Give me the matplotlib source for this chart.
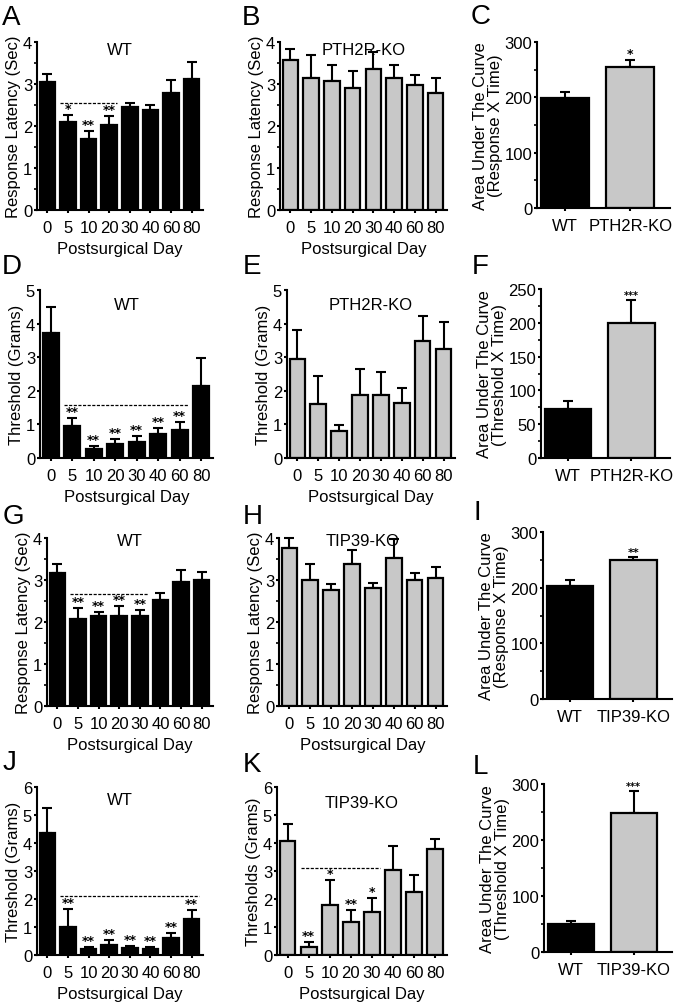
"""Painel 4x3 de latência/limiar pós-cirúrgico (WT vs PTH2R-KO / TIP39-KO)."""

import matplotlib

matplotlib.use("Agg")
import matplotlib.pyplot as plt
from matplotlib.ticker import MultipleLocator

plt.rcParams["font.family"] = ["Liberation Sans", "DejaVu Sans"]

DAYS = ["0", "5", "10", "20", "30", "40", "60", "80"]
AUC_GROUPS_PTH = ["WT", "PTH2R-KO"]
AUC_GROUPS_TIP = ["WT", "TIP39-KO"]

# médias e erros (só barra superior)
a_mean = [3.05, 2.09, 1.69, 2.03, 2.45, 2.37, 2.79, 3.13]
a_err = [0.19, 0.18, 0.19, 0.20, 0.10, 0.14, 0.31, 0.39]
b_mean = [3.56, 3.14, 3.06, 2.90, 3.36, 3.15, 2.97, 2.78]
b_err = [0.28, 0.56, 0.40, 0.42, 0.40, 0.31, 0.25, 0.36]
c_mean = [199, 254]
c_err = [10, 14]

d_mean = [3.73, 0.94, 0.27, 0.42, 0.49, 0.71, 0.83, 2.13]
d_err = [0.75, 0.24, 0.09, 0.14, 0.17, 0.17, 0.23, 0.86]
e_mean = [2.94, 1.60, 0.81, 1.87, 1.87, 1.63, 3.47, 3.24]
e_err = [0.86, 0.84, 0.17, 0.77, 0.70, 0.44, 0.76, 0.82]
f_mean = [73, 200]
f_err = [11, 33]

g_mean = [3.16, 2.06, 2.14, 2.15, 2.15, 2.53, 2.96, 3.00]
g_err = [0.23, 0.27, 0.09, 0.24, 0.14, 0.16, 0.27, 0.19]
h_mean = [3.77, 3.01, 2.77, 3.37, 2.80, 3.53, 3.00, 3.04]
h_err = [0.23, 0.36, 0.14, 0.34, 0.13, 0.44, 0.17, 0.26]
i_mean = [203, 250]
i_err = [10, 5]

j_mean = [4.37, 1.01, 0.20, 0.36, 0.24, 0.20, 0.60, 1.29]
j_err = [0.89, 0.64, 0.10, 0.18, 0.09, 0.09, 0.18, 0.33]
k_mean = [4.06, 0.30, 1.77, 1.19, 1.55, 3.02, 2.24, 3.77]
k_err = [0.63, 0.15, 0.91, 0.40, 0.49, 0.86, 0.62, 0.38]
l_mean = [50, 248]
l_err = [6, 39]

a_stars = ["", "*", "**", "**", "", "", "", ""]
d_stars = ["", "**", "**", "**", "**", "**", "**", ""]
g_stars = ["", "**", "**", "**", "**", "", "", ""]
j_stars = ["", "**", "**", "**", "**", "**", "**", "**"]
k_stars = ["", "**", "*", "**", "*", "", "", ""]
c_stars = ["", "*"]
f_stars = ["", "***"]
i_stars = ["", "**"]
l_stars = ["", "***"]

BLACK = "#000000"
GRAY = "#c8c8c8"
W, H = 680, 1004


def _ax(fig, l, t, r, b):
    return fig.add_axes([l / W, 1 - b / H, (r - l) / W, (b - t) / H])


def _style(ax, ymax, major, minor=None):
    for s in ("top", "right"):
        ax.spines[s].set_visible(False)
    for s in ("left", "bottom"):
        ax.spines[s].set_linewidth(1.5)
    ax.set_ylim(0, ymax)
    ax.yaxis.set_major_locator(MultipleLocator(major))
    if minor:
        ax.yaxis.set_minor_locator(MultipleLocator(minor))
    ax.tick_params(axis="both", which="major", width=1.5, length=2.5, labelsize=12)
    ax.tick_params(axis="y", which="major", pad=1)
    ax.tick_params(axis="x", which="major", pad=5)
    ax.tick_params(axis="y", which="minor", width=1.2, length=2)


def _bars(ax, mean, err, color, stars, width, star_size=9):
    x = list(range(len(mean)))
    ax.bar(x, mean, width, color=color, edgecolor="black", linewidth=1.6, zorder=2)
    ax.errorbar(x, mean, yerr=[[0] * len(err), err], fmt="none", ecolor="black",
                elinewidth=1.5, capsize=3.5, capthick=1.5, zorder=1, clip_on=False)
    for xi, m, e, s in zip(x, mean, err, stars):
        if s:
            ax.text(xi, m + e, s, ha="center", va="bottom", fontsize=star_size,
                    family="DejaVu Sans", fontweight="bold")
    return x


def _time_panel(fig, box, mean, err, color, ymax, ylabel, title, title_y,
                stars=None, dash=None, minor=None):
    ax = _ax(fig, *box)
    x = _bars(ax, mean, err, color, stars or [""] * len(mean), 0.75)
    ax.set_xlim(-0.5, 7.55)
    _style(ax, ymax, 1, minor)
    ax.set_xticks(x)
    ax.set_xticklabels(DAYS)
    ax.set_ylabel(ylabel, fontsize=12, labelpad=1)
    ax.set_xlabel("Postsurgical Day", fontsize=12, labelpad=4)
    ax.text(0.5, title_y, title, transform=ax.transAxes, ha="center", va="top", fontsize=12)
    if dash:
        i0, i1, yv = dash
        ax.plot([i0 - 0.375, i1 + 0.375], [yv, yv], color="black", lw=0.9,
                linestyle=(0, (2.5, 1.2)), zorder=3)
    return ax


def _auc_panel(fig, box, mean, err, groups, ymax, major, minor, ylabel, stars, star_size):
    ax = _ax(fig, *box)
    x = _bars(ax, mean, err, [BLACK, GRAY], stars, 0.73, star_size)
    ax.set_xlim(-0.43, 1.61)
    _style(ax, ymax, major, minor)
    ax.set_xticks(x)
    ax.set_xticklabels(groups)
    ax.set_ylabel(ylabel, fontsize=12, labelpad=1, linespacing=0.95)
    return ax


def main():
    fig = plt.figure(figsize=(W / 100, H / 100), dpi=100)

    lat = "Response Latency (Sec)"
    thr = "Threshold (Grams)"
    auc_r = "Area Under The Curve\n(Response X Time)"
    auc_t = "Area Under The Curve\n(Threshold X Time)"

    _time_panel(fig, (37, 43, 203, 211), a_mean, a_err, BLACK, 4, lat, "WT", 1.0,
                a_stars, (1, 3, 2.54), 0.5)
    _time_panel(fig, (280, 43, 447, 211), b_mean, b_err, GRAY, 4, lat, "PTH2R-KO", 1.0,
                minor=0.5)
    _auc_panel(fig, (537, 43, 670, 209), c_mean, c_err, AUC_GROUPS_PTH, 300, 100, 50,
               auc_r, c_stars, 9)

    _time_panel(fig, (40, 291, 213, 459), d_mean, d_err, BLACK, 5, thr, "WT", 0.96,
                d_stars, (1, 6, 1.57))
    _time_panel(fig, (287, 291, 455, 459), e_mean, e_err, GRAY, 5, thr, "PTH2R-KO", 0.96)
    _auc_panel(fig, (541, 290, 670, 459), f_mean, f_err, AUC_GROUPS_PTH, 250, 50, 25,
               auc_t, f_stars, 7)

    _time_panel(fig, (47, 539, 213, 707), g_mean, g_err, BLACK, 4, lat, "WT", 1.03,
                g_stars, (1, 4, 2.66), 0.5)
    _time_panel(fig, (279, 539, 447, 707), h_mean, h_err, GRAY, 4, lat, "TIP39-KO", 1.03,
                minor=0.5)
    _auc_panel(fig, (543, 533, 672, 700), i_mean, i_err, AUC_GROUPS_TIP, 300, 100, 50,
               auc_r, i_stars, 8)

    _time_panel(fig, (37, 788, 203, 956), j_mean, j_err, BLACK, 6, thr, "WT", 0.97,
                j_stars, (1, 7, 2.11))
    _time_panel(fig, (277, 788, 447, 956), k_mean, k_err, GRAY, 6, "Thresholds (Grams)",
                "TIP39-KO", 0.95, k_stars, (1, 4, 3.10))
    _auc_panel(fig, (544, 785, 672, 953), l_mean, l_err, AUC_GROUPS_TIP, 300, 100, 50,
               auc_t, l_stars, 7)

    letters = [("A", 2, 5), ("B", 242, 5), ("C", 471, 4),
               ("D", 2, 254), ("E", 243, 254), ("F", 472, 254),
               ("G", 3, 504), ("H", 243, 504), ("I", 473, 500),
               ("J", 3, 750), ("K", 243, 752), ("L", 473, 754)]
    for s, x, y in letters:
        fig.text(x / W, 1 - y / H, s, fontsize=20, ha="left", va="top")

    fig.savefig("out.png", dpi=100)
    plt.close(fig)


if __name__ == "__main__":
    main()
